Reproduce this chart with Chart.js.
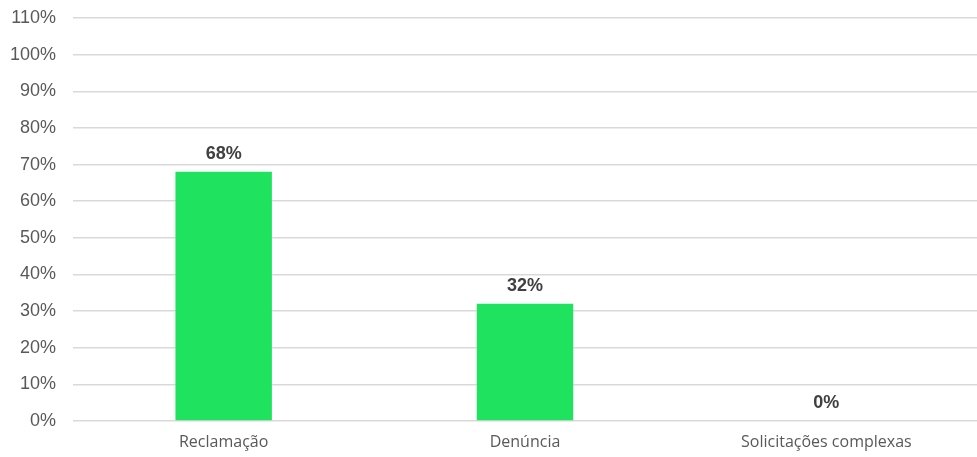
<!DOCTYPE html>
<html>
<head>
<meta charset="utf-8">
<script src="https://cdn.jsdelivr.net/npm/chart.js@4.4.1/dist/chart.umd.min.js"></script>
<style>
    html, body { margin: 0; padding: 0; background: #fff; }
    #wrap { width: 977px; height: 457px; }
</style>
</head>
<body>
<div id="wrap"><canvas id="chart"></canvas></div>
<script>
const categories = ['Reclamação', 'Denúncia', 'Solicitações complexas'];
const shares = [68, 32, 0];
const yMax = 110;
const yStep = 10;

// labels above bars, drawn from the bar elements
const valueLabels = {
    id: 'valueLabels',
    afterDatasetsDraw(chart) {
        const ctx = chart.ctx;
        const meta = chart.getDatasetMeta(0);
        ctx.save();
        ctx.font = 'bold 18px "Liberation Sans", Arial, sans-serif';
        ctx.fillStyle = '#404040';
        ctx.textAlign = 'center';
        ctx.textBaseline = 'middle';
        meta.data.forEach((bar, i) => {
            ctx.fillText(shares[i] + '%', bar.x, bar.y - 18);
        });
        ctx.restore();
    }
};

new Chart(document.getElementById('chart').getContext('2d'), {
    type: 'bar',
    data: {
        labels: categories,
        datasets: [{
            data: shares,
            backgroundColor: '#1FE35F',
            borderWidth: 0,
            barPercentage: 0.64,
            categoryPercentage: 0.5
        }]
    },
    options: {
        responsive: true,
        maintainAspectRatio: false,
        animation: false,
        layout: { padding: { top: 18, right: 0, bottom: 0, left: 0 } },
        plugins: {
            legend: { display: false },
            tooltip: { enabled: false }
        },
        scales: {
            x: {
                grid: { display: false },
                border: { display: false },
                afterFit: (scale) => { scale.height = 36; },
                ticks: {
                    color: '#595959',
                    font: { family: '"Open Sans", sans-serif', size: 16 },
                    padding: 4
                }
            },
            y: {
                min: 0,
                max: yMax,
                grid: { color: '#D9D9D9', lineWidth: 1.5, drawTicks: false },
                border: { display: false },
                afterFit: (scale) => {
                    scale.width = 73;
                    scale.paddingTop = 0;
                    scale.paddingBottom = 0;
                },
                ticks: {
                    stepSize: yStep,
                    color: '#595959',
                    padding: 17,
                    font: { family: '"Liberation Sans", Arial, sans-serif', size: 18 },
                    callback: (v) => v + '%'
                }
            }
        }
    },
    plugins: [valueLabels]
});
</script>
</body>
</html>
